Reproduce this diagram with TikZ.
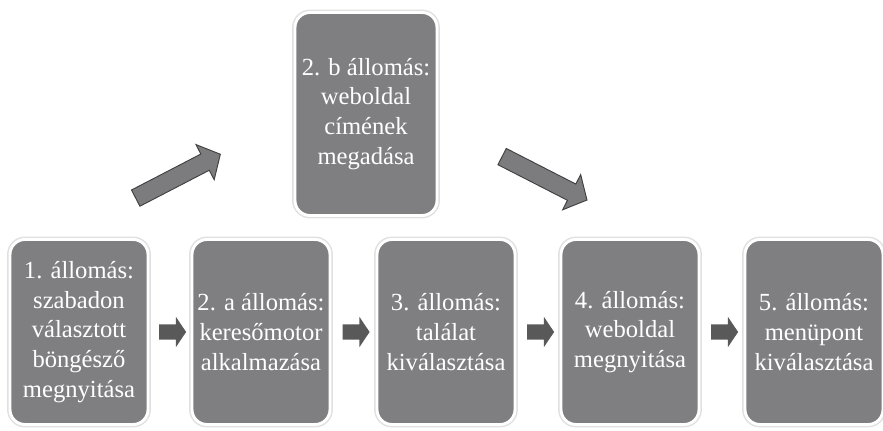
\documentclass[tikz,border=0pt]{standalone}
\usepackage{fontspec}
\setmainfont{Liberation Serif}
\newfontfamily\stepfont{Liberation Serif}
\usepackage{xcolor}
\usetikzlibrary{shapes.arrows, positioning}

\definecolor{boxgray}{HTML}{7F7F82}
\definecolor{arrowdark}{HTML}{595959}
\definecolor{arrowgray}{HTML}{7C7C7E}

\begin{document}
\begin{tikzpicture}[
    x=0.03cm, y=-0.03cm,
    stepbox/.style={fill=boxgray, draw=white, line width=2.5pt, rounded corners=0.45cm,
        preaction={draw=black!12, line width=5pt},
        minimum width=4.14cm, minimum height=5.55cm, text=white, align=center,
        font=\stepfont\fontsize{21}{25.5}\selectfont, inner sep=2pt},
    smallarr/.style={single arrow, fill=arrowdark, inner xsep=0pt, inner ysep=0.225cm,
        minimum height=0.81cm, single arrow head extend=0.225cm, single arrow tip angle=112},
    bigarr/.style={single arrow, fill=arrowgray, draw=black!75, thick, inner xsep=0pt,
        inner ysep=0.26cm, minimum height=2.86cm, single arrow head extend=0.32cm,
        single arrow tip angle=98},
]
\useasboundingbox (0,0) rectangle (883,431);

\node[stepbox] (s1) at (79,332) {1. állomás:\\szabadon\\választott\\böngésző\\megnyitása};
\node[stepbox] (s2a) at (261,332) {2. a állomás:\\keresőmotor\\alkalmazása};
\node[stepbox] (s3) at (446,332) {3. állomás:\\találat\\kiválasztása};
\node[stepbox] (s4) at (630,332) {4. állomás:\\weboldal\\megnyitása};
\node[stepbox] (s5) at (814,332) {5. állomás:\\menüpont\\kiválasztása};
\node[stepbox, minimum width=4.26cm, minimum height=6.09cm] (s2b) at (366,114) {2. b állomás:\\weboldal\\címének\\megadása};

\path (s1) -- (s2a) node[midway, smallarr] (a12) {};
\path (s2a) -- (s3) node[midway, smallarr] (a23) {};
\path (s3) -- (s4) node[midway, smallarr] (a34) {};
\path (s4) -- (s5) node[midway, smallarr] (a45) {};

\node[bigarr, rotate=27.4] (up) at (174.5,178) {};
\node[bigarr, rotate=-27.1] (down) at (541,176.5) {};
\end{tikzpicture}
\end{document}
